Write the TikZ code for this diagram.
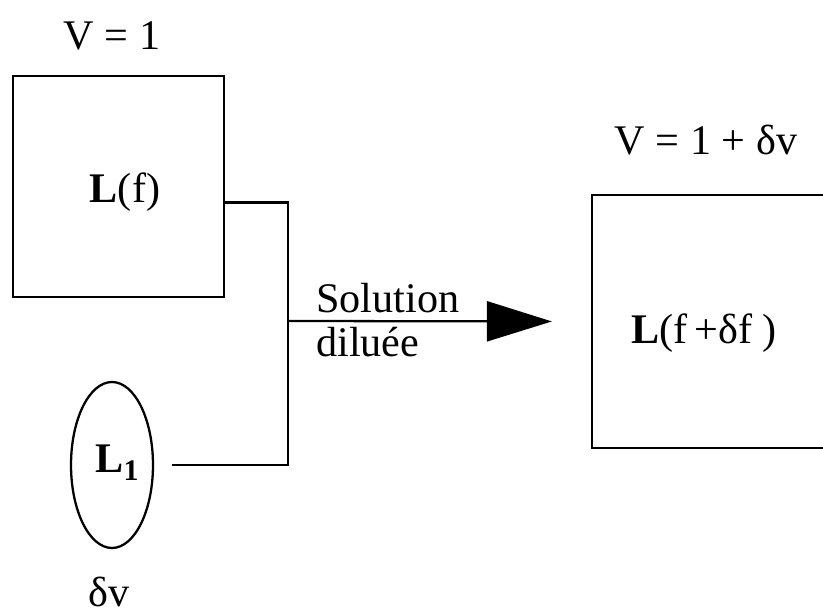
\documentclass[tikz,border=0pt]{standalone}
\usepackage{fontspec}
\setmainfont{Liberation Serif}
\usetikzlibrary{arrows.meta, positioning, shapes.geometric}

\begin{document}
\begin{tikzpicture}[
    x=0.02cm, y=-0.02cm,
    cuve/.style={draw, line width=1.3pt, minimum width=4.22cm, minimum height=4.42cm, inner sep=0pt},
    texte/.style={font=\fontsize{24}{25.5}\selectfont, inner sep=0pt},
    trait/.style={line width=1.3pt},
    fleche/.style={-{Triangle[length=1.3cm, width=0.8cm]}, line width=1.3pt}
]
    \useasboundingbox (0,0) rectangle (823,615);

    % Solution de depart
    \node[cuve] (depart) at (118.5,186.5) {};
    \node[texte] (lf) at (125,192) {\textbf{L}(f)};
    \node[texte] (v1) at (112,36) {V = 1};

    % Ajout
    \node[draw, ellipse, line width=1.3pt, minimum width=1.64cm, minimum height=3.32cm, inner sep=0pt] (ajout) at (112,465) {};
    \node[texte] (l1) at (117,463) {\textbf{L\raisebox{-0.4ex}{\fontsize{17}{17}\selectfont 1}}};
    \node[texte] (dv) at (109,592) {δv};

    % Solution finale
    \node[cuve, minimum width=5.76cm, minimum height=5.06cm] (finale) at (736,321.5) {};
    \node[texte] (lfdf) at (704,333) {\textbf{L}(f\,+δf )};
    \node[texte] (v2) at (706,140) {V = 1 + δv};

    % Melange
    \coordinate (j) at (288,321);
    \draw[trait] ([yshift=-0.32cm]depart.east) -| (j);
    \draw[trait, shorten <=0.36cm] (ajout.east) -| (j);
    \draw[fleche, shorten >=0.78cm] (j) -- (finale.west);
    \node[texte, align=left, right=0.56cm of j, yshift=0.02cm] (sol) {Solution\\diluée};
\end{tikzpicture}
\end{document}
